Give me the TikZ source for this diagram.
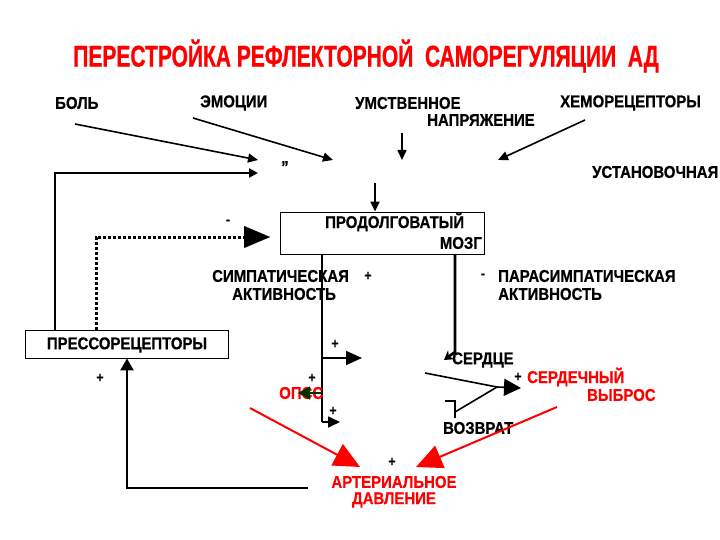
\documentclass[tikz,border=0pt]{standalone}
\usepackage{fontspec}
\setmainfont{Liberation Sans}
\newfontfamily\lblfamily[FakeStretch=0.88,FakeBold=0.6]{Liberation Sans Bold}
\newfontfamily\ttlfamily[FakeStretch=0.70,FakeBold=0.8]{Liberation Sans Bold}
\usetikzlibrary{arrows.meta}

\tikzset{
	lab/.style={font=\lblfamily\fontsize{17}{19}\selectfont, inner sep=0pt, anchor=west},
	redlab/.style={lab, text=red},
	sign/.style={font=\lblfamily\fontsize{14}{14}\selectfont, inner sep=0pt},
	arr/.style={line width=1.6pt, -{Triangle[length=10pt,width=9pt]}},
	fatarr/.style={line width=2.6pt, -{Triangle[length=9pt,width=9pt]}},
	redarr/.style={red, line width=2pt, -{Triangle[length=26pt,width=24pt]}},
	boxnode/.style={draw, line width=0.9pt, inner sep=0pt},
}

\begin{document}
\begin{tikzpicture}[x=1pt,y=-1pt]
	\useasboundingbox (0,0) rectangle (720,540);
	% title
	\node[font=\ttlfamily\fontsize{30}{32}\selectfont, text=red, inner sep=0pt] (title) at (366,56) {ПЕРЕСТРОЙКА РЕФЛЕКТОРНОЙ~~САМОРЕГУЛЯЦИИ~~АД};

	% factors
	\node[lab] (bol) at (55,103) {БОЛЬ};
	\node[lab] (emo) at (200,103) {ЭМОЦИИ};
	\node[lab] (umst) at (355,103) {УМСТВЕННОЕ};
	\node[lab] (napr) at (427,120) {НАПРЯЖЕНИЕ};
	\node[lab] (hemo) at (560,103) {ХЕМОРЕЦЕПТОРЫ};
	\node[lab] (ustan) at (592,172) {УСТАНОВОЧНАЯ};
	\node[lab] (qmark) at (281,167) {\symbol{"201D}};

	\coordinate (bolend) at (258,160);
	\coordinate (emoend) at (333,160);
	\coordinate (umend) at (402,160);
	\coordinate (hemoend) at (498,160);
	\draw[arr] (75,124) -- (bolend);
	\draw[arr] (193,118) -- (emoend);
	\draw[arr] (402,133) -- (umend);
	\draw[arr] (585,120) -- (hemoend);

	% medulla
	\node[boxnode, minimum width=204, minimum height=42] (mozg) at (382,233) {};
	\node[lab] (mozgtxt1) at (325,222) {ПРОДОЛГОВАТЫЙ};
	\node[lab, anchor=east] (mozgtxt2) at (482,243) {МОЗГ};
	\draw[arr] (375,183) -- (mozg.north -| 375,0);

	% pressoreceptors
	\node[boxnode, minimum width=203, minimum height=28] (press) at (126.5,344) {};
	\node[lab, anchor=center] (presstxt) at (127,345) {ПРЕССОРЕЦЕПТОРЫ};
	\coordinate (loopend) at (258,173);
	\draw[fatarr] (press.north -| 55,0) -- (55,173) -- (loopend);
	\draw[line width=3pt, dotted] (press.north -| 96,0) -- (96,237) -- (245,237);
	\draw[-{Triangle[length=26pt,width=22pt]}, line width=0.1pt] (244,237) -- (270,237);
	\node[sign] (minus1) at (228,222) {-};

	% autonomic activity
	\node[lab] (symp) at (212,276) {СИМПАТИЧЕСКАЯ};
	\node[lab] (sympact) at (232,294) {АКТИВНОСТЬ};
	\node[sign] (plus1) at (368,276) {+};
	\node[sign] (minus2) at (483,276) {-};
	\node[lab] (para) at (498,276) {ПАРАСИМПАТИЧЕСКАЯ};
	\node[lab] (paraact) at (498,294) {АКТИВНОСТЬ};

	% sympathetic branch
	\coordinate (stop) at (mozg.south -| 322,0);
	\coordinate (sbot) at (322,422);
	\draw[line width=2.6pt] (stop) -- (sbot);
	\draw[line width=1.6pt, -{Triangle[length=16pt,width=14pt]}] (322,358) -- (362,358);
	\draw[line width=1.6pt, -{Triangle[length=12pt,width=11pt]}] (sbot) -- (340,422);
	\node[redlab] (opss) at (279,393) {ОПСС};
	\draw[line width=1.6pt, -{Triangle[length=12pt,width=13pt]}, black!80!green] (322,393) -- (298,393);
	\node[sign] (plus2) at (335,344) {+};
	\node[sign] (plus3) at (312,378) {+};
	\node[sign] (plus4) at (333,411) {+};

	% parasympathetic branch
	\coordinate (ptop) at (mozg.south -| 455,0);
	\draw[line width=2.6pt, -{Stealth[length=9pt,width=11pt]}] (ptop) -- (455,352) -- (444,360);

	% heart
	\node[lab] (serd) at (452,360) {СЕРДЦЕ};
	\node[lab] (vozv) at (443,428) {ВОЗВРАТ};
	\coordinate (meet) at (497,387);
	\draw[line width=1.6pt] (425,373) -- (meet);
	\draw[line width=1.6pt] (445,401) -- (455,401) -- (455,418);
	\draw[line width=1.6pt] (455,412) -- (meet);
	\draw[line width=1.6pt, -{Triangle[length=17pt,width=17pt]}] (meet) -- (521,388);
	\node[sign] (plus5) at (518,377) {+};
	\node[redlab] (sv1) at (527,377) {СЕРДЕЧНЫЙ};
	\node[redlab] (sv2) at (587,395) {ВЫБРОС};

	% arterial pressure
	\node[redlab, anchor=center] (ad1) at (394,482) {АРТЕРИАЛЬНОЕ};
	\node[redlab, anchor=center] (ad2) at (394,500) {ДАВЛЕНИЕ};
	\node[sign] (plus6) at (392,462) {+};
	\draw[redarr] (250,408) -- (360,467);
	\draw[redarr] (557,407) -- (416,467);

	% feedback to pressoreceptors
	\coordinate (fbstart) at (308,488);
	\draw[line width=2.2pt, -{Triangle[length=12pt,width=13pt]}] (fbstart) -- (127,488) -- (press.south -| 127,0);
	\node[sign] (plus7) at (100,378) {+};
\end{tikzpicture}
\end{document}
